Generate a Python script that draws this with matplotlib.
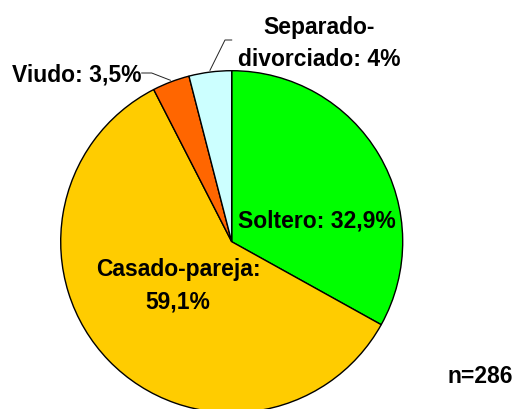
import matplotlib
matplotlib.use("Agg")
import numpy as np
import matplotlib.pyplot as plt

# Estado civil (n=286)
labels = ["Soltero", "Casado-pareja", "Viudo", "Separado-\ndivorciado"]
values = [32.9, 59.1, 3.5, 4.0]
value_text = ["32,9%", "59,1%", "3,5%", "4%"]
colors = ["#00FF00", "#FFCC00", "#FF6600", "#CCFFFF"]
n_total = 286

W, H = 521, 409
fig = plt.figure(figsize=(W / 100, H / 100), dpi=100)
ax = fig.add_axes([0, 0, 1, 1])

# pie laid out in pixel units, y measured from the bottom
cx, cy, r = 231.7, H - 241.7, 171
wedges, _ = ax.pie(values, colors=colors, startangle=90, counterclock=False,
                   center=(cx, cy), radius=r,
                   wedgeprops=dict(edgecolor="black", linewidth=1.0))
ax.set_xlim(0, W)
ax.set_ylim(0, H)
ax.set_aspect("equal")
ax.axis("off")

font = dict(family=["Liberation Sans", "DejaVu Sans"], fontweight="bold",
            fontsize=16.5, color="black", linespacing=1.52)

# label text, position (x, baseline of last line) in image pixels
label_strings = [
    f"{labels[0]}: {value_text[0]}",
    f"{labels[1]}:\n{value_text[1]}",
    f"{labels[2]}: {value_text[2]}",
    f"{labels[3]}: {value_text[3]}",
]
label_pos = [(316.5, 227.7), (178, 308.3), (76.7, 81.7), (319, 66)]
for s, (x, yb) in zip(label_strings, label_pos):
    ax.text(x, H - yb, s, ha="center", va="baseline", multialignment="center",
            **font)

# leader lines for the two thin slices
def edge_point(w):
    mid = np.deg2rad((w.theta1 + w.theta2) / 2)
    return cx + 1.01 * r * np.cos(mid), cy + 1.01 * r * np.sin(mid)

leaders = {2: [(151.7, 73), (141.7, 73)], 3: [(225, 40), (231.7, 40)]}
for i, pts in leaders.items():
    ex, ey = edge_point(wedges[i])
    xs = [ex] + [p[0] for p in pts]
    ys = [ey] + [H - p[1] for p in pts]
    ax.plot(xs, ys, color="#222222", lw=0.7)

ax.text(480, H - 383.3, f"n={n_total}", ha="center", va="baseline", **font)

fig.savefig("out.png", dpi=100)
